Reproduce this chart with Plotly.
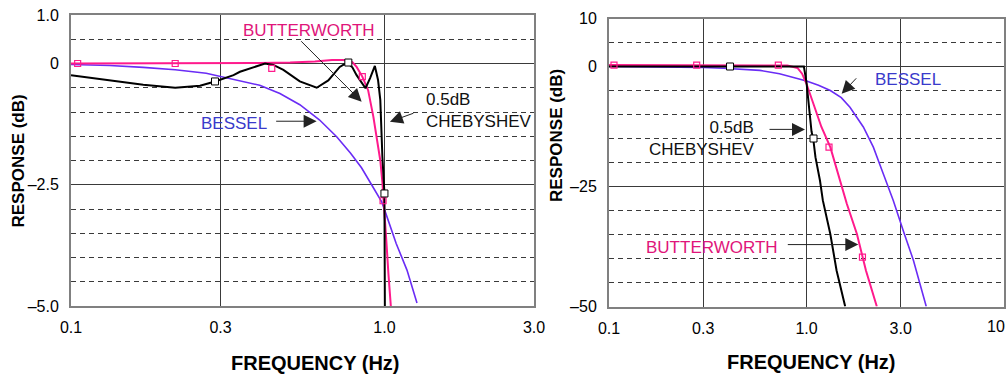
import math
import plotly.graph_objects as go

# ---------------- data ----------------
# Left panel (passband detail, 0.1 .. 3 Hz, -5 .. 1 dB)
lb_f = [0.1, 0.15, 0.2, 0.3, 0.4, 0.5, 0.6, 0.68, 0.74, 0.79, 0.815, 0.85, 0.887,
        0.922, 0.945, 0.97, 0.985, 1.0, 1.015, 1.03, 1.048]
lb_v = [0.0, 0.0, 0.0, 0.0, 0.01, 0.02, 0.04, 0.07, 0.07, 0.03, -0.07, -0.27, -0.55,
        -1.1, -1.58, -2.0, -2.45, -3.0, -3.7, -4.35, -5.0]

lc_f = [0.1, 0.124, 0.15, 0.17, 0.215, 0.258, 0.288, 0.33, 0.346, 0.382, 0.416, 0.442,
        0.476, 0.537, 0.608, 0.662, 0.72, 0.76, 0.79, 0.815, 0.87, 0.9, 0.932, 0.954,
        0.97, 0.985, 0.995, 1.0, 1.003]
lc_v = [-0.24, -0.32, -0.40, -0.44, -0.5, -0.46, -0.37, -0.24, -0.17, -0.07, 0.0, -0.03,
        -0.13, -0.37, -0.5, -0.35, -0.07, 0.02, -0.08, -0.24, -0.51, -0.3, -0.05, -0.34,
        -0.75, -1.92, -2.4, -2.68, -5.0]

lbs_f = [0.1, 0.133, 0.17, 0.215, 0.27, 0.33, 0.4, 0.464, 0.537, 0.62, 0.704, 0.78,
         0.845, 0.91, 0.98, 1.01, 1.09, 1.18, 1.27]
lbs_v = [-0.02, -0.04, -0.08, -0.13, -0.2, -0.32, -0.45, -0.62, -0.85, -1.16, -1.51,
         -1.85, -2.15, -2.5, -2.85, -3.09, -3.71, -4.26, -4.94]

# markers on the left panel
lb_mk_f = [0.105, 0.215, 0.437, 0.85, 0.99]
lb_mk_v = [0.0, 0.0, -0.1, -0.27, -2.83]
lc_mk_f = [0.288, 0.767, 1.0]
lc_mk_v = [-0.37, 0.02, -2.68]

# Right panel (full response, 0.1 .. 10 Hz, -50 .. 10 dB)
rb_f = [0.1, 0.3, 0.6, 0.8, 0.9, 0.95, 1.0, 1.08, 1.19, 1.32, 1.47, 1.6, 1.8, 2.0, 2.27]
rb_v = [0.3, 0.3, 0.3, 0.2, -0.3, -1.5, -3.6, -7.8, -12.6, -16.8, -23.5, -28.6, -34.9,
        -42.5, -50.0]

rc_f = [0.1, 0.3, 0.6, 0.9, 0.97, 1.0, 1.03, 1.06, 1.085, 1.11, 1.17, 1.21, 1.32, 1.42, 1.57]
rc_v = [0.0, 0.0, 0.0, 0.0, 0.0, -3.3, -8.5, -13.5, -15.5, -18.9, -23.75, -27.9, -34.9,
        -42.5, -50.0]

rbs_f = [0.1, 0.2, 0.3, 0.38, 0.5, 0.58, 0.73, 0.86, 1.0, 1.15, 1.32, 1.5, 1.66, 1.94,
         2.18, 2.45, 2.75, 3.09, 3.48, 4.04]
rbs_v = [0.0, -0.05, -0.2, -0.35, -0.6, -0.8, -1.5, -2.2, -3.0, -3.9, -5.0, -6.5, -8.5,
         -12.6, -16.8, -22.4, -27.9, -34.2, -40.4, -50.0]

rb_mk_f = [0.106, 0.278, 0.72, 1.30, 1.92]
rb_mk_v = [0.3, 0.3, 0.3, -16.8, -39.7]
rc_mk_f = [0.41, 1.085]
rc_mk_v = [0.0, -15.0]

# axis ticks
lx_ticks = [0.1, 0.3, 1.0, 3.0]
lx_text = ["0.1", "0.3", "1.0", "3.0"]
ly_ticks = [-5.0, -2.5, 0.0, 1.0]
ly_text = ["\u20135.0", "\u20132.5", "0", "1.0"]
ly_minor = [-4.5, -4.0, -3.5, -3.0, -2.0, -1.5, -1.0, -0.5, 0.5]

rx_ticks = [0.1, 0.3, 1.0, 3.0, 10.0]
rx_text = ["0.1", "0.3", "1.0", "3.0", ""]
ry_ticks = [-50, -25, 0, 10]
ry_text = ["\u201350", "\u201325", "0", "10"]
ry_minor = [-45, -40, -35, -30, -20, -15, -10, -5, 5]

# ---------------- style ----------------
W, H = 1006, 378
FONT = "Arial, 'Liberation Sans', sans-serif"
PINK = "#ff1a8c"
PINK_TXT = "#e0157a"
BLUE = "#6a2cf5"
BLUE_TXT = "#3a3acb"
BLACK = "#000000"

fig = go.Figure()

def add_curves(f, v, color, width, xa, ya):
    fig.add_trace(go.Scatter(x=f, y=v, mode="lines", line=dict(color=color, width=width),
                             xaxis=xa, yaxis=ya, showlegend=False, hoverinfo="skip"))

# left panel
add_curves(lbs_f, lbs_v, BLUE, 1.6, "x", "y")
add_curves(lb_f, lb_v, PINK, 2, "x", "y")
add_curves(lc_f, lc_v, BLACK, 2, "x", "y")
fig.add_trace(go.Scatter(x=lb_mk_f, y=lb_mk_v, mode="markers", xaxis="x", yaxis="y",
                         marker=dict(symbol="square-open", size=6, color=PINK, line=dict(width=1.2)),
                         showlegend=False, hoverinfo="skip"))
fig.add_trace(go.Scatter(x=lc_mk_f, y=lc_mk_v, mode="markers", xaxis="x", yaxis="y",
                         marker=dict(symbol="square", size=7, color="white",
                                     line=dict(width=1, color=BLACK)),
                         showlegend=False, hoverinfo="skip"))

# right panel
add_curves(rbs_f, rbs_v, BLUE, 1.6, "x2", "y2")
add_curves(rb_f, rb_v, PINK, 2, "x2", "y2")
add_curves(rc_f, rc_v, BLACK, 2, "x2", "y2")
fig.add_trace(go.Scatter(x=rb_mk_f, y=rb_mk_v, mode="markers", xaxis="x2", yaxis="y2",
                         marker=dict(symbol="square-open", size=6, color=PINK, line=dict(width=1.2)),
                         showlegend=False, hoverinfo="skip"))
fig.add_trace(go.Scatter(x=rc_mk_f, y=rc_mk_v, mode="markers", xaxis="x2", yaxis="y2",
                         marker=dict(symbol="square", size=7, color="white",
                                     line=dict(width=1, color=BLACK)),
                         showlegend=False, hoverinfo="skip"))

GRID = "#3a3a3a"
BORDER = "#808080"
tickfont = dict(family=FONT, size=16, color="black")

def xaxis(domain, rng, tv, tt, anchor):
    return dict(type="log", domain=domain, range=rng, tickmode="array", tickvals=tv,
                ticktext=tt, showgrid=True, gridcolor=GRID, gridwidth=1, zeroline=False,
                showline=True, mirror=True, linecolor=BORDER, linewidth=2, ticks="",
                tickfont=tickfont, ticklabelstandoff=6, anchor=anchor, automargin=False)

def yaxis(domain, rng, tv, tt, minor, anchor):
    return dict(domain=domain, range=rng, tickmode="array", tickvals=tv, ticktext=tt,
                showgrid=True, gridcolor=GRID, gridwidth=1, zeroline=False,
                showline=True, mirror=True, linecolor=BORDER, linewidth=2, ticks="",
                tickfont=tickfont, ticklabelstandoff=7, anchor=anchor, automargin=False,
                minor=dict(tickmode="array", tickvals=minor, showgrid=True,
                           gridcolor=GRID, gridwidth=1, griddash="5px,4px", ticks=""))

fig.update_layout(
    width=W, height=H, margin=dict(l=0, r=0, t=0, b=0, autoexpand=False),
    paper_bgcolor="white", plot_bgcolor="white", showlegend=False,
    xaxis=xaxis([71 / W, 534 / W], [-1, math.log10(3)], lx_ticks, lx_text, "y"),
    yaxis=yaxis([1 - 306 / H, 1 - 15 / H], [-5, 1], ly_ticks, ly_text, ly_minor, "x"),
    xaxis2=xaxis([609 / W, 1004 / W], [-1, 1], rx_ticks, rx_text, "y2"),
    yaxis2=yaxis([1 - 306.5 / H, 1 - 18.5 / H], [-50, 10], ry_ticks, ry_text, ry_minor, "x2"),
)

ann = []
txt = dict(family=FONT, size=17)

def label(text, x, y, xref, yref, color, xanchor="center", align="center"):
    ann.append(dict(text=text, x=x, y=y, xref=xref, yref=yref, showarrow=False,
                    xanchor=xanchor, yanchor="middle", align=align,
                    font=dict(txt, color=color)))

def arrow(x, y, ax, ay, xref, yref):
    ann.append(dict(text="", x=x, y=y, xref=xref, yref=yref, ax=ax, ay=ay,
                    axref="pixel", ayref="pixel", showarrow=True, arrowhead=2,
                    arrowsize=2.6, arrowwidth=1, arrowcolor="#222222", standoff=0))

# left panel labels (x in log10 units)
label("BUTTERWORTH", -0.241, 0.69, "x", "y", PINK_TXT)
label("BESSEL", -0.48, -1.233, "x", "y", BLUE_TXT)
label("0.5dB<br>CHEBYSHEV", 0.126, -0.97, "x", "y", "#111111", xanchor="left", align="left")
arrow(-0.0727, -0.788, -62, -62, "x", "y")
arrow(-0.2163, -1.19, -42, 0, "x", "y")
arrow(0.0175, -1.2, 25, -9, "x", "y")

# right panel labels
label("BESSEL", 0.5114, -2.71, "x2", "y2", BLUE_TXT)
label("0.5dB<br>CHEBYSHEV", -0.252, -14.94, "x2", "y2", "#111111", xanchor="right", align="right")
label("BUTTERWORTH", -0.476, -37.65, "x2", "y2", PINK_TXT)
arrow(0.178, -5.69, 16, -17, "x2", "y2")
arrow(-0.0076, -13.1, -37, 0, "x2", "y2")
arrow(0.2623, -37.1, -72, 0, "x2", "y2")

# axis titles
title_font = dict(family=FONT, size=20, color="black")
ann.append(dict(text="<b>FREQUENCY (Hz)</b>", x=315 / W, y=1 - 363 / H, xref="paper",
                yref="paper", showarrow=False, font=title_font, xanchor="center", yanchor="middle"))
ann.append(dict(text="<b>FREQUENCY (Hz)</b>", x=811 / W, y=1 - 362 / H, xref="paper",
                yref="paper", showarrow=False, font=title_font, xanchor="center", yanchor="middle"))
ytitle_font = dict(family=FONT, size=17, color="black")
ann.append(dict(text="<b>RESPONSE (dB)</b>", x=18 / W, y=1 - 161.5 / H, xref="paper",
                yref="paper", showarrow=False, font=ytitle_font, textangle=-90,
                xanchor="center", yanchor="middle"))
ann.append(dict(text="<b>RESPONSE (dB)</b>", x=556 / W, y=1 - 136 / H, xref="paper",
                yref="paper", showarrow=False, font=ytitle_font, textangle=-90,
                xanchor="center", yanchor="middle"))
# last tick label of right x axis, shifted inward as in the reference
ann.append(dict(text="10", x=996 / W, y=1 - 326 / H, xref="paper", yref="paper",
                showarrow=False, font=tickfont, xanchor="center", yanchor="middle"))

fig.update_layout(annotations=ann)
fig.write_html("out.html", config={"displayModeBar": False},
               post_script="document.body.style.margin='0px';document.body.style.overflow='hidden';")
